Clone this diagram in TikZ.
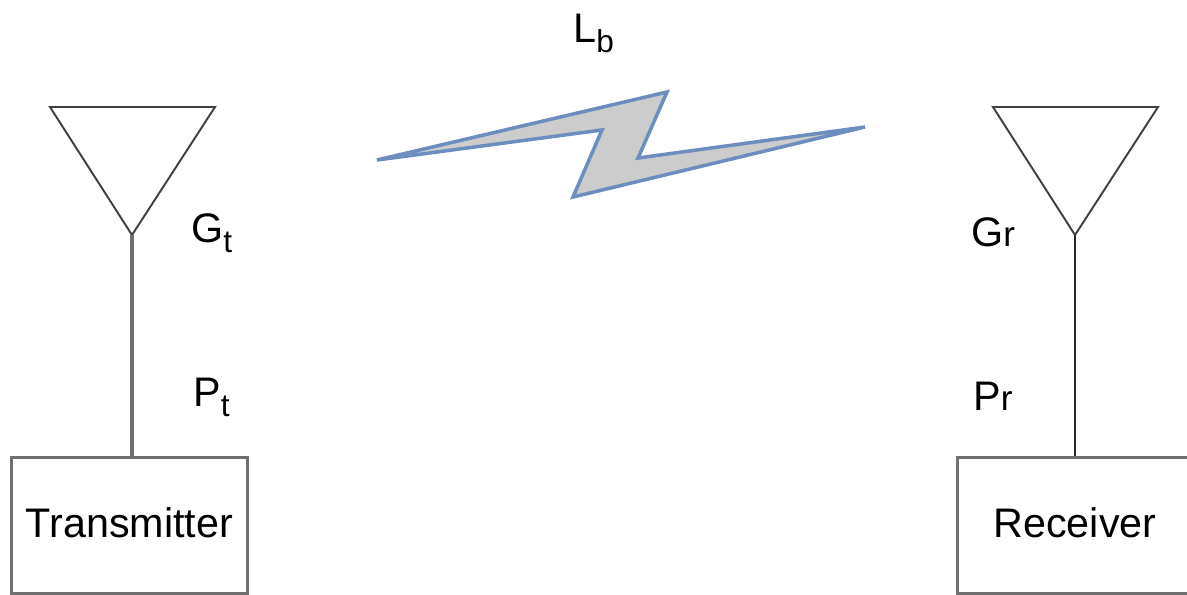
\documentclass[tikz,border=0pt]{standalone}
\usepackage{fontspec}
\setmainfont{Liberation Sans}
\definecolor{boltblue}{HTML}{6C8EBF}
\definecolor{boltgray}{HTML}{CCCCCC}
\definecolor{boxgray}{HTML}{707070}
\newcommand{\lowsub}[1]{\raisebox{-6pt}{\fontsize{18}{18}\selectfont #1}}
\newcommand{\smallr}{{\fontsize{20}{20}\selectfont r}}
\tikzset{
  radiobox/.style={draw=boxgray, line width=1.7pt, fill=white, minimum width=236*0.567pt, minimum height=137*0.567pt, inner sep=0pt, text height=17pt, text depth=3.6pt, font=\fontsize{23.5}{23.5}\selectfont},
  antenna/.style={draw=black!75, line width=1.1pt, line join=miter},
  mast/.style={line width=1.1pt},
  gainlabel/.style={anchor=base west, inner sep=0pt, font=\fontsize{23.5}{23.5}\selectfont},
}
\begin{document}
\begin{tikzpicture}[x=0.02cm, y=-0.02cm]
\useasboundingbox (0,0) rectangle (1187,595);
% Boxes
\node[radiobox] (tx) at (129.5,525.5) {Transmitter};
\node[radiobox] (rx) at (1075,525.5) {Receiver};
% Antennas
\coordinate (txtip) at (132,235);
\coordinate (rxtip) at (1075,235);
\draw[antenna] (50,107) -- (215,107) -- (txtip) -- cycle;
\draw[antenna] (993,107) -- (1158,107) -- (rxtip) -- cycle;
% Masts
\draw[mast, draw=boxgray, line width=2pt] (txtip) -- (tx.north -| txtip);
\draw[mast, draw=black!85] (rxtip) -- (rx.north);
% Radio link
\draw[draw=boltblue, fill=boltgray, line width=2pt, line join=miter, miter limit=20]
  (377,160) -- (667,92) -- (638,158) -- (865,127) -- (573,197) -- (602,130) -- cycle;
% Labels
\node[gainlabel] (lb) at (573,42) {L\lowsub{b}};
\node[gainlabel] (gt) at (191,242) {G\lowsub{t}};
\node[gainlabel] (pt) at (193,406) {P\lowsub{t}};
\node[gainlabel] (gr) at (971,246) {G\smallr};
\node[gainlabel] (pr) at (973,410) {P\smallr};
\end{tikzpicture}
\end{document}
